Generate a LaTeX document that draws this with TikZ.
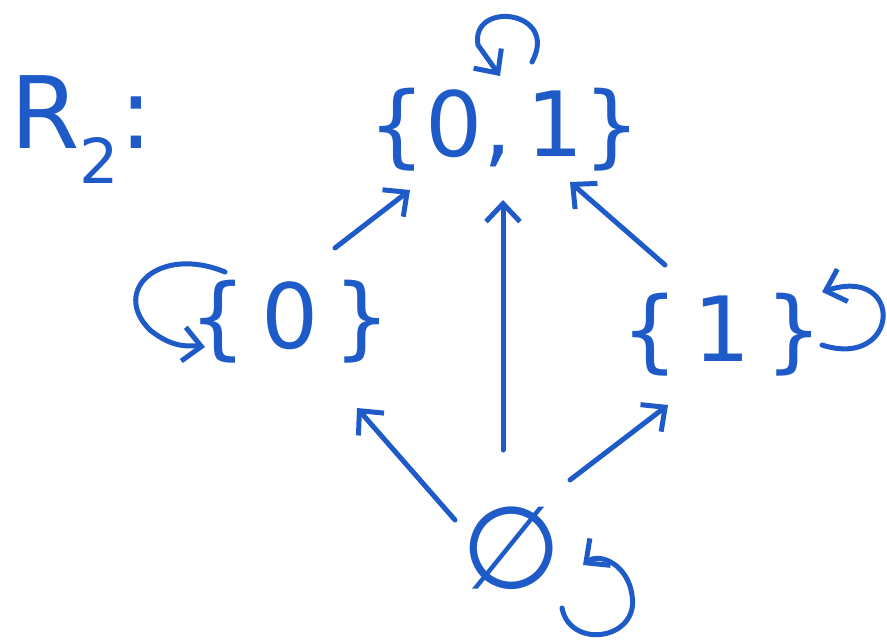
\documentclass[tikz,border=0pt]{standalone}
\usepackage{fontspec}
\setmainfont{DejaVu Sans}
\usetikzlibrary{arrows.meta}
\definecolor{pen}{HTML}{1F5BC8}
\begin{document}
\begin{tikzpicture}[x=1pt,y=-1pt,
  lbl/.style={text=pen,font=\fontsize{90}{90}\selectfont,inner sep=0pt},
  conn/.style={draw=pen,line width=5pt,line cap=round,line join=round,-{Straight Barb[length=18pt,width=34pt,line width=5pt]}}]
\useasboundingbox (0,0) rectangle (887,641);
\node[lbl,font=\fontsize{100}{100}\selectfont,anchor=west] (R) at (10,130) {R\raisebox{-0.35em}{\fontsize{62}{62}\selectfont 2}:};
\node[lbl] (top) at (505,130) {\{0,\,1\}};
\node[lbl] (left) at (290,322) {\{\,0\,\}};
\node[lbl] (right) at (722,335) {\{\,1\,\}};
\node[lbl,font=\fontsize{115}{115}\selectfont] (bot) at (512,548) {∅};
% loops
\coordinate (t1) at (532,62); \coordinate (t2) at (500,76);
\draw[conn] (t1) .. controls (560,10) and (470,0) .. (478,45) -- (t2);
\coordinate (l1) at (225,272); \coordinate (l2) at (205,347);
\draw[conn] (l1) .. controls (160,245) and (110,290) .. (150,330) .. controls (175,350) and (190,345) .. (l2);
\coordinate (r1) at (822,345); \coordinate (r2) at (822,292);
\draw[conn] (r1) .. controls (900,370) and (905,265) .. (r2);
\coordinate (b1) at (562,608); \coordinate (b2) at (583,565);
\draw[conn] (b1) .. controls (570,650) and (640,640) .. (632,595) .. controls (628,565) and (600,552) .. (b2);
% edges
\coordinate (e1s) at (335,248); \coordinate (e1t) at (410,190);
\coordinate (e2s) at (503,450); \coordinate (e2t) at (503,200);
\coordinate (e3s) at (665,265); \coordinate (e3t) at (570,182);
\coordinate (e4s) at (455,520); \coordinate (e4t) at (357,408);
\coordinate (e5s) at (570,480); \coordinate (e5t) at (668,405);
\draw[conn] (e1s) -- (e1t);
\draw[conn] (e2s) -- (e2t);
\draw[conn] (e3s) -- (e3t);
\draw[conn] (e4s) -- (e4t);
\draw[conn] (e5s) -- (e5t);
\end{tikzpicture}
\end{document}
